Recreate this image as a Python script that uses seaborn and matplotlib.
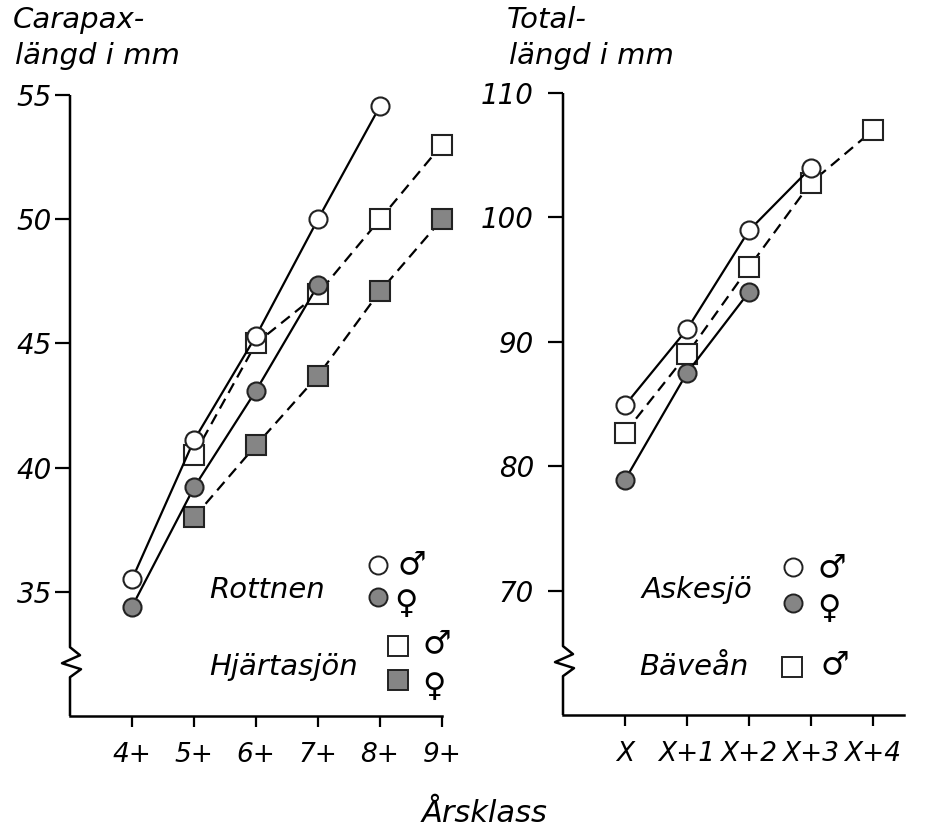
import matplotlib
matplotlib.use("Agg")
import matplotlib.pyplot as plt
import seaborn as sns
import pandas as pd

# ---------------- data ----------------
left_ages = [4, 5, 6, 7, 8, 9]
left_tick_labels = ["4+", "5+", "6+", "7+", "8+", "9+"]
left_yticks = [35, 40, 45, 50, 55]

rott_m_x = [4, 5, 6, 7, 8]
rott_m = [35.5, 41.1, 45.3, 50.0, 54.55]
rott_f_x = [4, 5, 6, 7]
rott_f = [34.4, 39.2, 43.1, 47.35]
hj_m_x = [5, 6, 7, 8, 9]
hj_m = [40.5, 45.0, 47.0, 50.0, 53.0]
hj_f_x = [5, 6, 7, 8, 9]
hj_f = [38.0, 40.9, 43.7, 47.1, 50.0]

right_pos = [0, 1, 2, 3, 4]
right_tick_labels = ["X", "X+1", "X+2", "X+3", "X+4"]
right_yticks = [70, 80, 90, 100, 110]

ask_m_x = [0, 1, 2, 3]
ask_m = [84.9, 91.0, 98.95, 104.0]
ask_f_x = [0, 1, 2]
ask_f = [78.9, 87.5, 94.0]
bav_m_x = [0, 1, 2, 3, 4]
bav_m = [82.7, 89.0, 96.0, 102.8, 107.0]

# ---------------- style ----------------
sns.set_style("ticks")
plt.rcParams["font.family"] = ["DejaVu Sans"]
plt.rcParams["font.style"] = "italic"
plt.rcParams["text.color"] = "black"
plt.rcParams["xtick.color"] = "black"
plt.rcParams["ytick.color"] = "black"
plt.rcParams["axes.edgecolor"] = "black"

W, H = 931, 836
fig = plt.figure(figsize=(W / 100, H / 100), dpi=100)
fig.patch.set_facecolor("white")

axL = fig.add_axes([70 / W, 1 - 716 / H, (442 - 70) / W, (716 - 95) / H])
axR = fig.add_axes([563 / W, 1 - 715 / H, (904 - 563) / W, (715 - 93) / H])

GREY = "#858585"
EDGE = "#222222"
LW = 1.6
DASH = (0, (5, 3))
FS = 20
TFS = 21
SEXFS = 23


def series(ax, x, y, marker, filled, dashed, ms):
    df = pd.DataFrame({"x": x, "y": y})
    sns.lineplot(
        data=df, x="x", y="y", ax=ax, color="black", linewidth=LW,
        linestyle=DASH if dashed else "-",
        marker=marker, markersize=ms,
        markerfacecolor=GREY if filled else "white",
        markeredgecolor=EDGE, markeredgewidth=1.5,
        estimator=None, sort=True, legend=False, clip_on=False,
    )


# left panel: squares first, circles on top
series(axL, hj_f_x, hj_f, "s", True, True, 14)
series(axL, hj_m_x, hj_m, "s", False, True, 14)
series(axL, rott_f_x, rott_f, "o", True, False, 13)
series(axL, rott_m_x, rott_m, "o", False, False, 13)

series(axR, bav_m_x, bav_m, "s", False, True, 14)
series(axR, ask_f_x, ask_f, "o", True, False, 13)
series(axR, ask_m_x, ask_m, "o", False, False, 13)

axL.set_xlim(3, 9)
axL.set_ylim(30, 55)
axR.set_xlim(-1, 4.5)
axR.set_ylim(60, 110)

axL.set_xticks(left_ages)
axL.set_xticklabels(left_tick_labels)
axL.set_yticks(left_yticks)
axR.set_xticks(right_pos)
axR.set_xticklabels(right_tick_labels)
axR.set_yticks(right_yticks)

for ax, ypad in ((axL, 2), (axR, 10)):
    ax.set_xlabel("")
    ax.set_ylabel("")
    ax.spines["top"].set_visible(False)
    ax.spines["right"].set_visible(False)
    ax.spines["left"].set_visible(False)
    ax.spines["bottom"].set_linewidth(1.8)
    ax.tick_params(axis="x", direction="out", length=8, width=1.6,
                   pad=11, labelsize=FS - 1)
    ax.tick_params(axis="y", direction="out", length=11, width=1.6,
                   pad=ypad, labelsize=FS)
    for lab in ax.get_xticklabels() + ax.get_yticklabels():
        lab.set_fontstyle("italic")
    ax.set_facecolor("white")

    # broken left spine with zigzag
    wpx = ax.get_position().width * W
    hpx = ax.get_position().height * H
    yb = 0.085
    pts = [(0, 1.0), (0, yb + 16 / hpx), (10, yb + 8 / hpx), (-8, yb),
           (11, yb - 6 / hpx), (0, yb - 14 / hpx), (0, 0)]
    xs = [p[0] / wpx for p in pts]
    ys = [p[1] for p in pts]
    ax.plot(xs, ys, transform=ax.transAxes, color="black", lw=1.8,
            clip_on=False, solid_capstyle="butt")

# ---------------- in-plot legends ----------------
def sym(ax, px, py, marker, filled, ms, x0, y0, wpx, hpx):
    ax.plot([(px - x0) / wpx], [(y0 - py) / hpx], transform=ax.transAxes,
            marker=marker, markersize=ms, linestyle="none",
            markerfacecolor=GREY if filled else "white",
            markeredgecolor=EDGE, markeredgewidth=1.4, clip_on=False)


def txt(ax, px, py, s, x0, y0, wpx, hpx, size=TFS, style="italic"):
    ax.text((px - x0) / wpx, (y0 - py) / hpx, s, transform=ax.transAxes,
            ha="center", va="center", fontsize=size, fontstyle=style,
            family=["DejaVu Sans"], fontweight="normal")


# left legend
x0, y0, wpx, hpx = 70, 716, 372, 621
sym(axL, 378, 565, "o", False, 13, x0, y0, wpx, hpx)
sym(axL, 378, 597, "o", True, 13, x0, y0, wpx, hpx)
sym(axL, 398, 646, "s", False, 14, x0, y0, wpx, hpx)
sym(axL, 398, 680, "s", True, 14, x0, y0, wpx, hpx)
txt(axL, 412, 565, "♂", x0, y0, wpx, hpx, size=SEXFS, style="normal")
txt(axL, 406, 604, "♀", x0, y0, wpx, hpx, size=SEXFS, style="normal")
txt(axL, 437, 644, "♂", x0, y0, wpx, hpx, size=SEXFS, style="normal")
txt(axL, 434, 687, "♀", x0, y0, wpx, hpx, size=SEXFS, style="normal")
txt(axL, 267, 590, "Rottnen", x0, y0, wpx, hpx)
txt(axL, 284, 667, "Hjärtasjön", x0, y0, wpx, hpx)

# right legend
x0, y0, wpx, hpx = 563, 715, 341, 622
sym(axR, 793, 567, "o", False, 13, x0, y0, wpx, hpx)
sym(axR, 793, 603, "o", True, 13, x0, y0, wpx, hpx)
sym(axR, 792, 667, "s", False, 14, x0, y0, wpx, hpx)
txt(axR, 832, 568, "♂", x0, y0, wpx, hpx, size=SEXFS, style="normal")
txt(axR, 829, 609, "♀", x0, y0, wpx, hpx, size=SEXFS, style="normal")
txt(axR, 835, 665, "♂", x0, y0, wpx, hpx, size=SEXFS, style="normal")
txt(axR, 697, 590, "Askesjö", x0, y0, wpx, hpx)
txt(axR, 694, 667, "Bäveån", x0, y0, wpx, hpx)

# ---------------- axis titles ----------------
fig.text(13 / W, 1 - 20 / H, "Carapax-", ha="left", va="center",
         fontsize=TFS, fontstyle="italic")
fig.text(15 / W, 1 - 56 / H, "längd i mm", ha="left", va="center",
         fontsize=TFS, fontstyle="italic")
fig.text(507 / W, 1 - 20 / H, "Total-", ha="left", va="center",
         fontsize=TFS, fontstyle="italic")
fig.text(509 / W, 1 - 56 / H, "längd i mm", ha="left", va="center",
         fontsize=TFS, fontstyle="italic")
fig.text(485 / W, 1 - 814 / H, "Årsklass", ha="center", va="center",
         fontsize=22, fontstyle="italic")

fig.savefig("out.png", dpi=100, facecolor="white")
